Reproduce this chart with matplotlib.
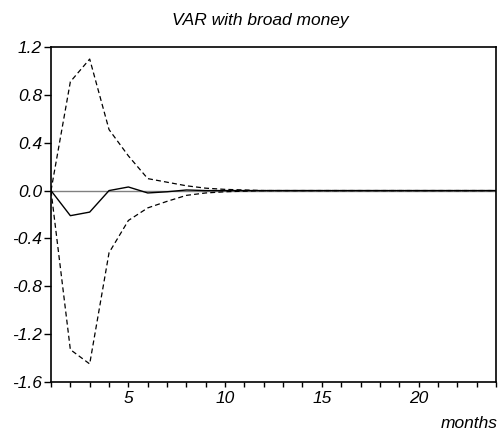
import numpy as np
import matplotlib.pyplot as plt
from matplotlib.ticker import FuncFormatter, MultipleLocator

# =========================
# DATOS
# =========================

meses = list(range(1, 25))

respuesta = [0.0, -0.21, -0.18, 0.0, 0.03, -0.02, -0.01, 0.005, 0.0, 0.0,
             0.0, 0.0, 0.0, 0.0, 0.0, 0.0, 0.0, 0.0, 0.0, 0.0, 0.0, 0.0, 0.0, 0.0]

banda_sup = [0.0, 0.91, 1.10, 0.51, 0.29, 0.10, 0.07, 0.04, 0.02, 0.01,
             0.005, 0.0, 0.0, 0.0, 0.0, 0.0, 0.0, 0.0, 0.0, 0.0, 0.0, 0.0, 0.0, 0.0]

banda_inf = [0.0, -1.33, -1.45, -0.52, -0.25, -0.145, -0.09, -0.04, -0.02, -0.01,
             -0.005, 0.0, 0.0, 0.0, 0.0, 0.0, 0.0, 0.0, 0.0, 0.0, 0.0, 0.0, 0.0, 0.0]

TITULO = "VAR with broad money"
ETIQUETA_X = "months"

# =========================
# GRÁFICA
# =========================

plt.rcParams["font.family"] = ["Liberation Sans", "DejaVu Sans"]

fig = plt.figure(figsize=(5.03, 4.32), dpi=100)
ax = fig.add_axes([0.1014, 0.116, 0.8846, 0.775])

ax.axhline(0, color="#808080", lw=1.0, zorder=1)
ax.plot(meses, respuesta, color="black", lw=1.0, zorder=3)
ax.plot(meses, banda_sup, color="black", lw=0.9, ls=(0, (4, 2.5)), zorder=2)
ax.plot(meses, banda_inf, color="black", lw=0.9, ls=(0, (4, 2.5)), zorder=2)

ax.set_xlim(1, 24)
ax.set_ylim(-1.6, 1.2)

ax.xaxis.set_major_locator(MultipleLocator(1))
ax.xaxis.set_major_formatter(FuncFormatter(lambda v, p: f"{int(v)}" if int(v) % 5 == 0 else ""))
ax.yaxis.set_major_locator(MultipleLocator(0.4))
ax.yaxis.set_major_formatter(FuncFormatter(lambda v, p: f"{v:.1f}"))

ax.tick_params(axis="both", direction="out", width=1, labelsize=12.5, color="black")
ax.tick_params(axis="y", length=5, pad=1.5)
ax.tick_params(axis="x", length=3.6, pad=3)
for lab in ax.get_xticklabels() + ax.get_yticklabels():
    lab.set_fontstyle("italic")

for lado in ax.spines.values():
    lado.set_linewidth(1.2)

fig.text(260 / 503, 1 - 21 / 432, TITULO, ha="center", va="center", fontsize=12.5, style="italic")
fig.text(0.99, 1 - 423 / 432, ETIQUETA_X, ha="right", va="center", fontsize=12.5, style="italic")

fig.savefig("out.png", dpi=100)
